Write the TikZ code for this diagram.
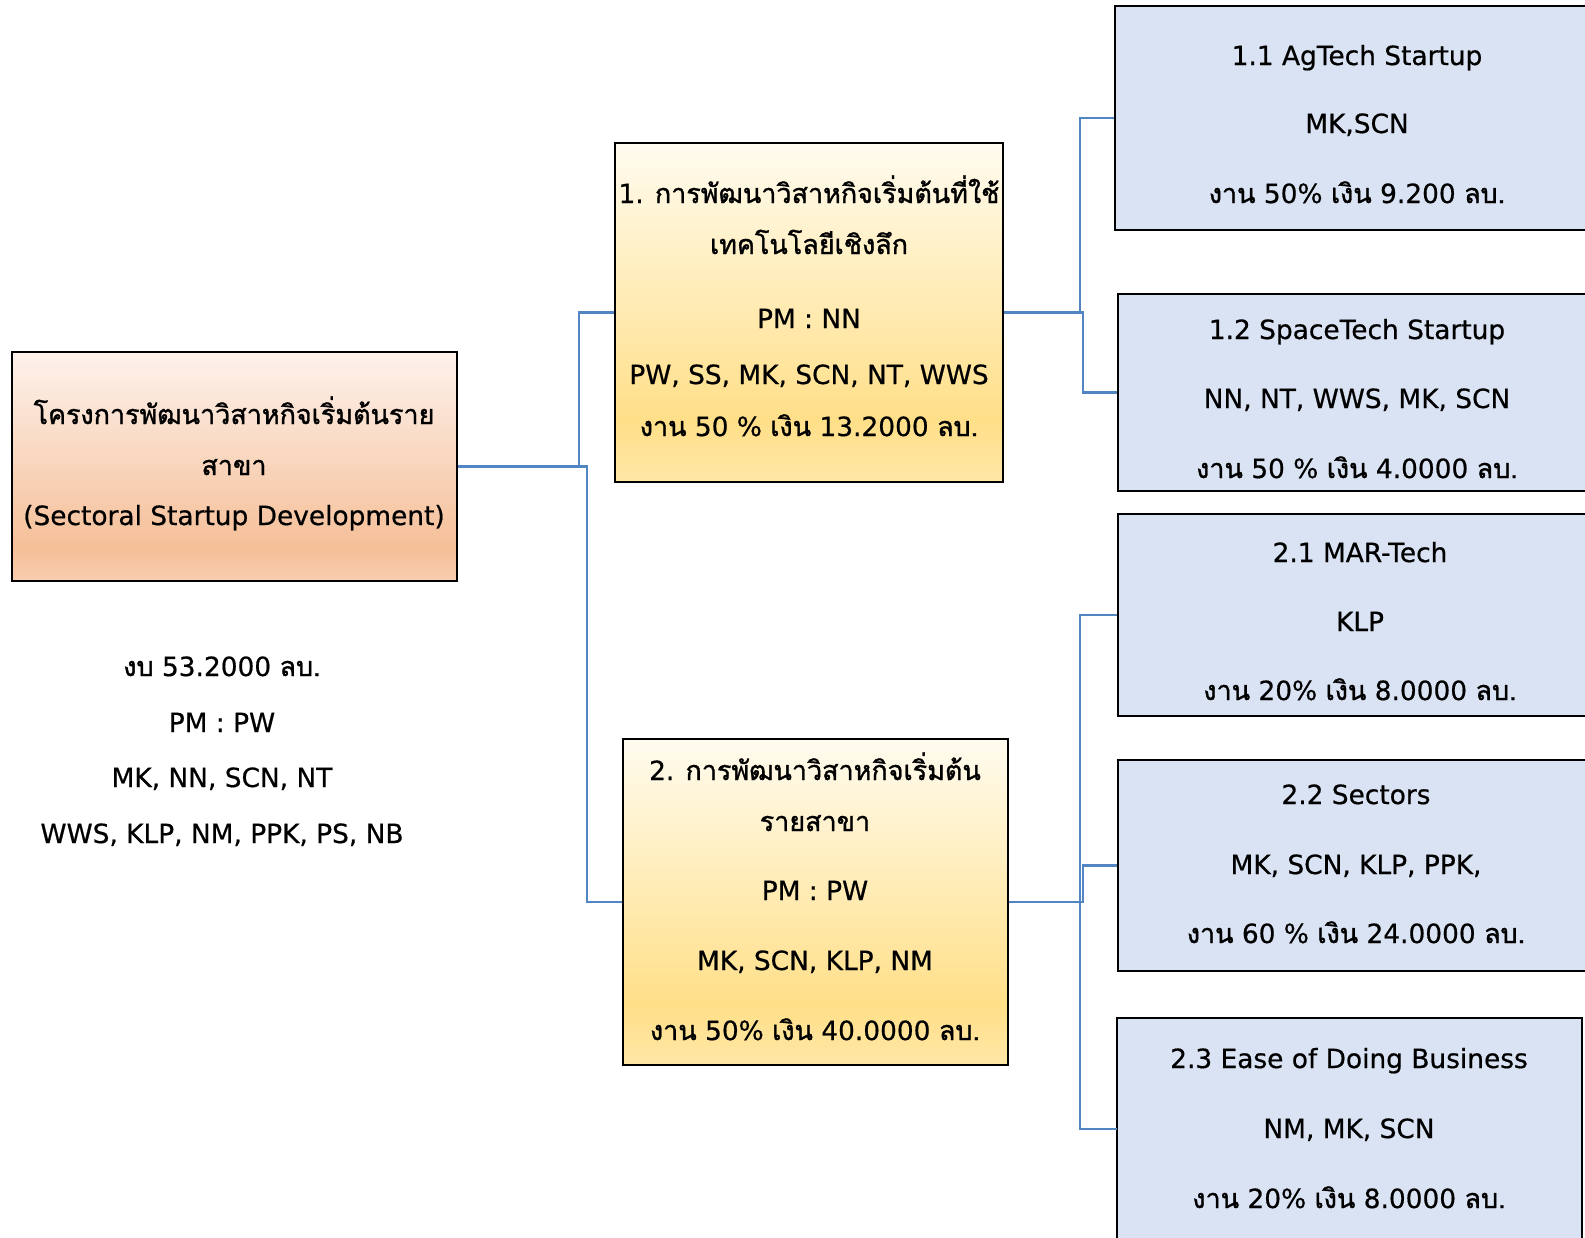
\documentclass[tikz,border=0pt]{standalone}
\usepackage{fontspec}
\setmainfont{DejaVu Sans}[FakeBold=0.6]
\newfontfamily\thf{Loma}[Script=Thai, Scale=1.02, FakeBold=1.3]
\definecolor{rootTop}{HTML}{FDF2EC}
\definecolor{rootBot}{HTML}{F5BF98}
\definecolor{rootEnd}{HTML}{F8CDB0}
\definecolor{yelTop}{HTML}{FFFBEF}
\definecolor{yelBot}{HTML}{FFDF88}
\definecolor{yelEnd}{HTML}{FFE7A8}
\definecolor{blueFill}{HTML}{DAE3F3}
\definecolor{connC}{HTML}{5186C2}
\pgfdeclareverticalshading{rootshade}{100bp}{color(0bp)=(rootEnd); color(25bp)=(rootEnd); color(32bp)=(rootBot); color(75bp)=(rootTop); color(100bp)=(rootTop)}
\pgfdeclareverticalshading{yelshade}{100bp}{color(0bp)=(yelEnd); color(25bp)=(yelEnd); color(34bp)=(yelBot); color(75bp)=(yelTop); color(100bp)=(yelTop)}
\begin{document}
\begin{tikzpicture}[x=0.75pt,y=-0.75pt,
  boxbase/.style={draw=black, line width=2.1pt, inner sep=0pt, rectangle},
  rootbox/.style={boxbase, shading=rootshade},
  yelbox/.style={boxbase, shading=yelshade},
  bluebox/.style={boxbase, fill=blueFill},
  conn/.style={draw=connC, line width=1.6pt},
  txt/.style={font=\fontsize{19.8pt}{24pt}\selectfont, inner sep=0pt, anchor=base}
]
\useasboundingbox (0,0) rectangle (1585,1238);

% boxes
\node[rootbox, minimum width=333.75pt, minimum height=171.75pt] (root) at (234.5,466.5) {};
\node[yelbox, minimum width=291pt, minimum height=254.25pt] (y1) at (809,312.5) {};
\node[yelbox, minimum width=288.75pt, minimum height=244.5pt] (y2) at (815.5,902) {};
\node[bluebox, minimum width=363.75pt, minimum height=168pt] (b11) at (1357.5,118) {};
\node[bluebox, minimum width=361.5pt, minimum height=147.75pt] (b12) at (1359,392.5) {};
\node[bluebox, minimum width=361.5pt, minimum height=151.5pt] (b21) at (1359,615) {};
\node[bluebox, minimum width=361.5pt, minimum height=158.25pt] (b22) at (1359,865.5) {};
\node[bluebox, minimum width=348.75pt, minimum height=181.5pt] (b23) at (1349.5,1139) {};

% connectors
\coordinate (j1) at (579,466.5);
\coordinate (j2) at (587,466.5);
\draw[conn] (root.east) -- (j2) |- (y2.west);
\draw[conn] (j1) |- (y1.west);
\coordinate (j3) at (1080,312.5);
\coordinate (j4) at (1083,312.5);
\draw[conn] (y1.east) -- (j4) |- (b12.west);
\draw[conn] (j3) |- (b11.west);
\coordinate (j5) at (1080,902);
\coordinate (j6) at (1083,902);
\coordinate (b23in) at (1117,1129);
\draw[conn] (y2.east) -- (j6) |- (b22.west);
\draw[conn] (j5) |- (b21.west);
\draw[conn] (j5) |- (b23in);

% root text
\node[txt] (rt1) at (234,424) {\thf โครงการพัฒนาวิสาหกิจเริ่มต้นราย};
\node[txt] (rt2) at (234,475) {\thf สาขา};
\node[txt] (rt3) at (234,525) {(Sectoral Startup Development)};
\node[txt] (rn1) at (222,676) {{\thf งบ} 53.2000 {\thf ลบ.}};
\node[txt] (rn2) at (222,732) {PM : PW};
\node[txt] (rn3) at (222,787) {MK, NN, SCN, NT};
\node[txt] (rn4) at (222,843) {WWS, KLP, NM, PPK, PS, NB};

% box 1
\node[txt] (y1t1) at (809,203) {1. {\thf การพัฒนาวิสาหกิจเริ่มต้นที่ใช้}};
\node[txt] (y1t2) at (809,254) {\thf เทคโนโลยีเชิงลึก};
\node[txt] (y1t3) at (809,328) {PM : NN};
\node[txt] (y1t4) at (809,384) {PW, SS, MK, SCN, NT, WWS};
\node[txt] (y1t5) at (809,436) {{\thf งาน} 50 \% {\thf เงิน} 13.2000 {\thf ลบ.}};

% box 2
\node[txt] (y2t1) at (815,780) {2. {\thf การพัฒนาวิสาหกิจเริ่มต้น}};
\node[txt] (y2t2) at (815,831) {\thf รายสาขา};
\node[txt] (y2t3) at (815,900) {PM : PW};
\node[txt] (y2t4) at (815,970) {MK, SCN, KLP, NM};
\node[txt] (y2t5) at (815,1040) {{\thf งาน} 50\% {\thf เงิน} 40.0000 {\thf ลบ.}};

% blue boxes
\node[txt] (b11t1) at (1357,65) {1.1 AgTech Startup};
\node[txt] (b11t2) at (1357,133) {MK,SCN};
\node[txt] (b11t3) at (1357,203) {{\thf งาน} 50\% {\thf เงิน} 9.200 {\thf ลบ.}};

\node[txt] (b12t1) at (1357,339) {1.2 SpaceTech Startup};
\node[txt] (b12t2) at (1357,408) {NN, NT, WWS, MK, SCN};
\node[txt] (b12t3) at (1357,478) {{\thf งาน} 50 \% {\thf เงิน} 4.0000 {\thf ลบ.}};

\node[txt] (b21t1) at (1360,562) {2.1 MAR-Tech};
\node[txt] (b21t2) at (1360,631) {KLP};
\node[txt] (b21t3) at (1360,700) {{\thf งาน} 20\% {\thf เงิน} 8.0000 {\thf ลบ.}};

\node[txt] (b22t1) at (1356,804) {2.2 Sectors};
\node[txt] (b22t2) at (1356,874) {MK, SCN, KLP, PPK,};
\node[txt] (b22t3) at (1356,943) {{\thf งาน} 60 \% {\thf เงิน} 24.0000 {\thf ลบ.}};

\node[txt] (b23t1) at (1349,1068) {2.3 Ease of Doing Business};
\node[txt] (b23t2) at (1349,1138) {NM, MK, SCN};
\node[txt] (b23t3) at (1349,1208) {{\thf งาน} 20\% {\thf เงิน} 8.0000 {\thf ลบ.}};
\end{tikzpicture}
\end{document}
